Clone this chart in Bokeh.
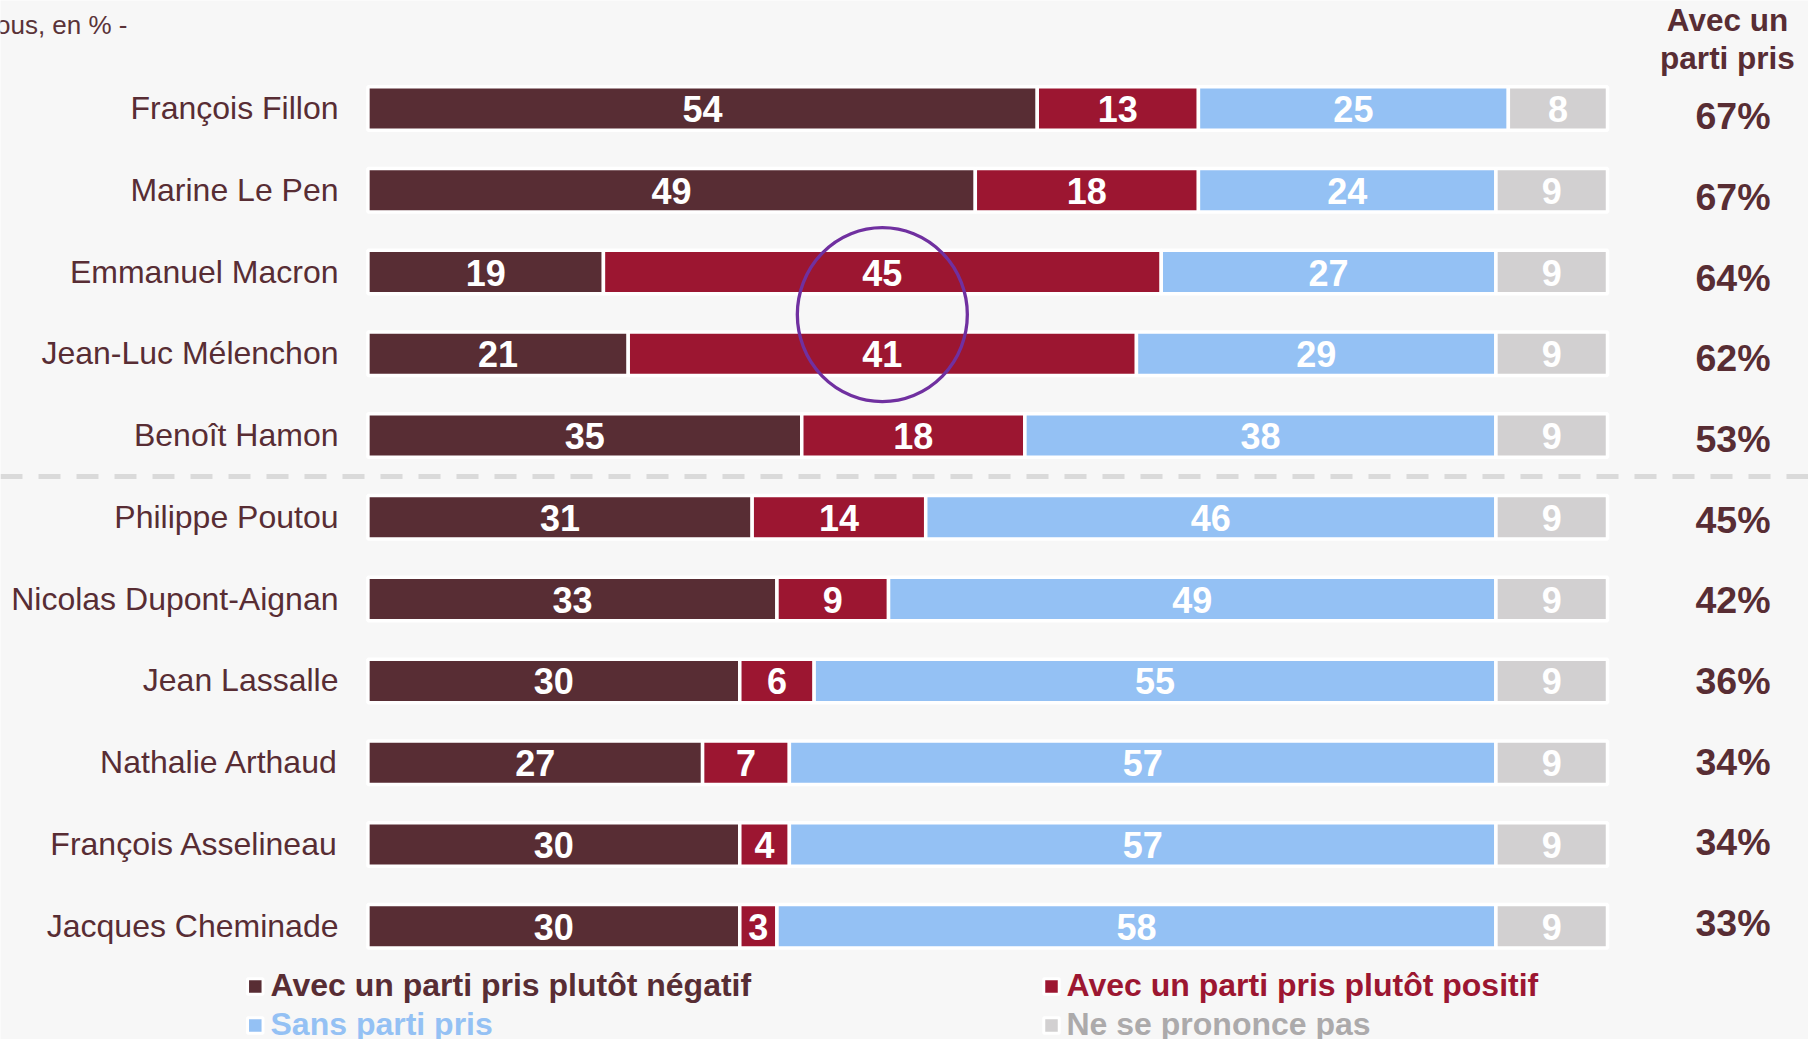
from bokeh.plotting import figure
from bokeh.models import ColumnDataSource, Range1d, Span
from bokeh.core.properties import value
from bokeh.embed import file_html
from bokeh.resources import INLINE

# ---------------- data ----------------
candidates = ["François Fillon", "Marine Le Pen", "Emmanuel Macron", "Jean-Luc Mélenchon",
              "Benoît Hamon", "Philippe Poutou", "Nicolas Dupont-Aignan", "Jean Lassalle",
              "Nathalie Arthaud", "François Asselineau", "Jacques Cheminade"]
negatif = [54, 49, 19, 21, 35, 31, 33, 30, 27, 30, 30]
positif = [13, 18, 45, 41, 18, 14, 9, 6, 7, 4, 3]
sans_parti = [25, 24, 27, 29, 38, 46, 49, 55, 57, 57, 58]
nsp = [8, 9, 9, 9, 9, 9, 9, 9, 9, 9, 9]
avec_parti_pris = [67, 67, 64, 62, 53, 45, 42, 36, 34, 34, 33]

series_labels = ["Avec un parti pris plutôt négatif", "Avec un parti pris plutôt positif",
                 "Sans parti pris", "Ne se prononce pas"]
series_colors = ["#582d34", "#9c1631", "#94c1f4", "#d2d0d1"]
legend_text_colors = ["#582d34", "#9c1631", "#94c1f4", "#acaaab"]
header_lines = ["Avec un", "parti pris"]
subtitle = "- À tous, en % -"
highlighted = ["Emmanuel Macron", "Jean-Luc Mélenchon"]
main_group_size = 5

# ---------------- layout (pixels of the page) ----------------
W, H = 1808, 1039
X0_PX, PX_PER_PCT = 367.4, 12.396
ROW0_PX, ROW_PX = 108.0, 81.77
FONT = value("Liberation Sans")
TXT = "#582d34"


def px2x(px):
    return (px - X0_PX) / PX_PER_PCT


def px2y(py):
    return (py - ROW0_PX) / ROW_PX


p = figure(width=W, height=H, output_backend="svg", toolbar_location=None,
           x_range=Range1d(px2x(0), px2x(W)),
           y_range=Range1d(px2y(H), px2y(0)),
           x_axis_type=None, y_axis_type=None, min_border=0)
p.background_fill_color = "#f7f7f7"
p.border_fill_color = "#f7f7f7"
p.outline_line_color = None
p.grid.visible = False

n = len(candidates)
rows = list(range(n))
keys = ["neg", "pos", "sans", "nsp"]
series = [negatif, positif, sans_parti, nsp]
src = ColumnDataSource(dict(row=rows, neg=negatif, pos=positif, sans=sans_parti, nsp=nsp))
p.hbar_stack(keys, y="row", height=0.532, color=series_colors, line_color="white",
             line_width=3.5, source=src)

# separator between the main candidates and the others
p.add_layout(Span(location=main_group_size - 0.5, dimension="width",
                  line_color="#dadada", line_width=5, line_dash="22 16",
                  line_dash_offset=0))

# segment labels
lx, ly, lt = [], [], []
for i in range(n):
    left = 0
    for s in series:
        v = s[i]
        lx.append(left + v / 2)
        ly.append(i)
        lt.append(str(v))
        left += v
p.text(x=lx, y=ly, text=lt, text_align="center", text_baseline="alphabetic",
       y_offset=0.5, text_color="white", text_font=FONT, text_font_style="bold",
       text_font_size="36px")

# candidate names
p.text(x=[0] * n, y=rows, text=candidates, x_offset=-29.4, y_offset=-0.5,
       text_align="right", text_baseline="alphabetic", text_color=TXT,
       text_font=FONT, text_font_size="32px")

# right column: percentage with a parti pris
py_pct = [px2y(115.6 + 80.71 * i) for i in rows]
p.text(x=[px2x(1732.5)] * n, y=py_pct, text=[f"{v}%" for v in avec_parti_pris],
       text_align="center", text_baseline="alphabetic",
       text_color=TXT, text_font=FONT, text_font_style="bold", text_font_size="37.5px")

# header
p.text(x=[px2x(1727)] * 2, y=[px2y(19.7), px2y(57.0)], text=header_lines,
       text_align="center", text_baseline="alphabetic", text_color=TXT,
       text_font=FONT, text_font_style="bold", text_font_size="31.5px")

# subtitle (cut at the left edge, as in the source)
p.text(x=[px2x(127)], y=[px2y(24.5)], text=[subtitle], text_align="right",
       text_baseline="alphabetic", text_color="#5a3338", text_font=FONT,
       text_font_size="26px")

# highlight circle around the positive values of two candidates
hi = [candidates.index(c) for c in highlighted]
cx = sum(negatif[i] + positif[i] / 2 for i in hi) / len(hi)
cy = sum(hi) / len(hi)
p.ellipse(x=[cx], y=[cy + 0.02], width=170, height=174, width_units="screen",
          height_units="screen", fill_alpha=0, line_color="#7030a0", line_width=3.3)

# legend
leg_mx = [254.8, 1051, 254.8, 1051]
leg_tx = [270, 1066, 270, 1066]
leg_my = [986, 986, 1025, 1025]
leg_cy = [984.7, 984.7, 1023.7, 1023.7]
p.scatter(x=[px2x(v) for v in leg_mx], y=[px2y(v) for v in leg_my], marker="square",
          size=15.5, fill_color=series_colors, line_color="white", line_width=3)
for k in range(4):
    p.text(x=[px2x(leg_tx[k])], y=[px2y(leg_cy[k])], text=[series_labels[k]],
           text_align="left", text_baseline="alphabetic",
           text_color=legend_text_colors[k], text_font=FONT,
           text_font_style="bold", text_font_size="32px")

html = file_html(p, INLINE)
html = html.replace("<body>", '<body style="background-color:#f7f7f7;">', 1)
open("out.html", "w").write(html)
